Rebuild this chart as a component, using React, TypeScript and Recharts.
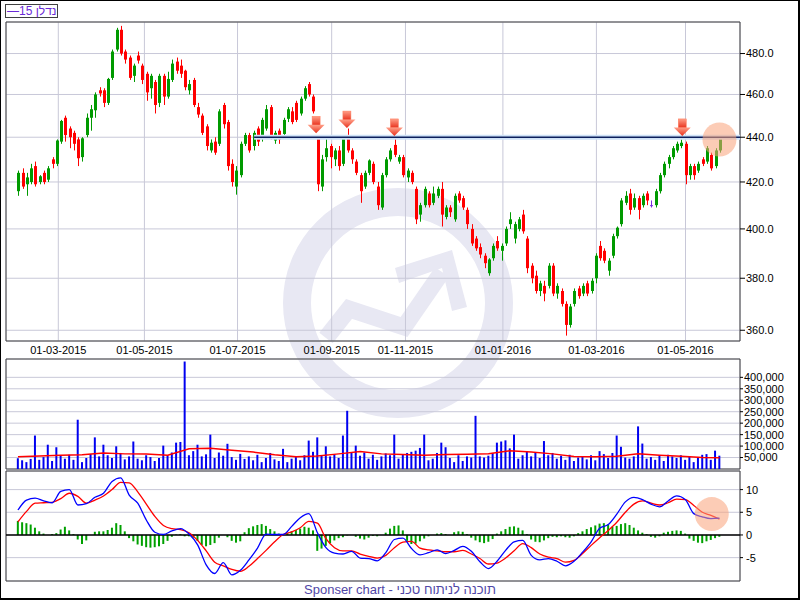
import {
  ComposedChart,
  Bar,
  Line,
  XAxis,
  YAxis,
  CartesianGrid,
  ReferenceLine,
  ReferenceDot,
  ReferenceArea,
} from "recharts"

// daily candles, sampled every second session (Feb 2015 - May 2016)
const opens = [
  416, 424, 419, 420, 427, 420, 424, 421, 430, 428,
  438, 449, 444, 442, 439, 431, 441, 449, 452.5, 462,
  462, 456, 468, 482, 492, 481, 478, 469, 479, 474,
  470, 463, 466, 456, 469, 459, 467, 476, 474, 471.5,
  462, 467, 454, 450, 445, 434, 438, 437, 455, 447,
  428, 418, 423, 437, 441, 436, 444, 440, 444, 454,
  438.5, 443, 441.5, 448.5, 452, 456, 451, 458, 465, 459,
  440, 418, 431, 436, 430, 434, 428, 441, 434, 429,
  423, 418, 424, 428, 418, 409, 423, 430, 436.5, 429,
  431, 422, 424, 417, 406, 410, 415, 411, 414, 417,
  405, 409, 404, 415, 413, 408, 400, 396, 392.5, 389,
  382, 388, 395, 391, 394, 402, 396, 400, 406, 396,
  385, 381, 375, 377, 377, 385, 374, 375, 370, 362,
  370, 376, 374, 378, 375, 380, 393, 391, 383, 389,
  397, 402, 411, 415, 409, 413, 410, 415, 410, 410,
  416, 423, 428, 431, 434, 436, 437, 423, 427, 425,
  430, 429, 432, 427, 434,
]
const highs = [
  425, 426, 424, 428, 429, 423, 425, 427, 431, 439,
  448, 450, 445, 443, 440, 440, 451, 455, 461, 463.5,
  463, 468, 482, 493, 494, 482, 479, 475, 481, 475,
  471, 470, 467, 470, 470, 471, 477, 478, 477, 472,
  467, 468, 456, 451, 446, 439, 440, 453, 456, 448,
  430, 427, 438, 442, 442, 443, 445, 449, 455, 455,
  443, 444, 449, 454, 454, 457, 459, 464, 466, 460,
  441, 432, 440, 437, 435, 436, 441, 444, 435, 430,
  424, 425, 430, 429, 420, 424, 431, 435, 441, 432,
  432, 426, 425, 418, 411, 418, 416, 418, 418, 420,
  410, 410, 415, 416, 414, 409, 402, 397, 394, 390,
  388, 394, 397, 394, 401, 407, 403, 405, 408, 397,
  386, 383, 379, 379, 386, 386, 378, 376, 371, 370,
  376, 377, 378, 379, 380, 390, 395, 392, 388, 398,
  401, 413, 416, 417, 415, 414, 415, 416, 412, 417,
  424, 429, 432, 436, 438, 439, 438, 428, 428, 429,
  431, 436, 433, 435, 440,
]
const lows = [
  414, 417, 414, 419, 418, 419, 419, 420, 426, 427,
  437, 438, 435, 434, 427, 429, 440, 443, 449, 459,
  454, 455, 467, 481, 479, 475, 467, 466, 475, 465,
  457, 458, 451, 454, 455, 458, 466, 470, 468, 462,
  460, 454, 449, 441, 434, 433, 432, 436, 444, 425,
  418, 414.5, 422, 436, 433, 434, 436, 438, 443, 439,
  437, 437, 440, 447, 446, 447, 450, 457, 459, 451,
  416, 416, 429, 426, 427, 425, 427, 433, 428, 423,
  411, 417, 423, 419, 408, 408, 422, 429, 431, 428,
  422, 420, 419, 402, 403, 409, 409, 410, 413, 401,
  404, 405, 403, 411, 408, 400, 393, 391, 388, 384,
  381, 387, 391, 387, 393, 400, 394, 399, 398, 382,
  378, 374, 373, 371, 376, 373, 372, 369, 358, 361,
  369, 372, 373, 373, 374, 378, 387, 386, 381, 388,
  396, 401, 410, 406, 408, 404, 409, 410, 409, 409,
  415, 422, 426, 430, 433, 435, 419, 421, 421, 424,
  427, 428, 425, 426, 433,
]
const closes = [
  424, 418, 422, 426, 419, 422.5, 420, 426, 428, 438.5,
  447.5, 441, 440, 437, 430.5, 439.5, 449, 453, 460, 460.5,
  456, 467.5, 481, 492, 480, 477, 468, 474, 476.5, 467,
  461, 469, 455, 469, 459, 467.5, 475, 471.5, 470, 463.5,
  465, 455, 450.5, 442, 436, 437.5, 433, 452, 446, 427,
  420, 425, 437, 441, 434, 442, 438, 448, 453, 440,
  442, 439, 448, 453, 447, 448, 458, 463, 460, 452,
  419, 430, 435, 431, 434, 427, 439.5, 434, 430, 424,
  416, 424, 429.5, 420, 410, 423, 430, 434, 432, 431,
  423, 425, 420, 404, 410, 417, 410, 415, 417, 406,
  409, 407, 414, 412, 409, 402, 394, 392, 389.5, 386,
  387.5, 393, 392, 393, 400, 404, 402, 404, 399, 384,
  380, 375, 378, 374, 385, 374, 377, 370, 362, 369,
  375, 373, 377, 374, 379, 389, 388, 387, 387, 397,
  400.5, 412, 414, 408, 413, 408, 414, 412, 410, 416,
  423, 428, 431, 435, 437, 437.5, 423, 427, 423, 428,
  428, 435, 426, 434, 439.5,
]
// volume in thousands
const volumes = [
  47, 38, 30, 44, 146, 40, 52, 106, 35, 95,
  58, 45, 62, 40, 215, 30, 48, 65, 138, 55,
  106, 60, 48, 99, 70, 42, 55, 120, 45, 38,
  60, 52, 35, 48, 102, 60, 72, 115, 118, 469,
  60, 78, 106, 55, 64, 150, 48, 72, 58, 110,
  52, 40, 66, 44, 55, 38, 62, 30, 48, 70,
  42, 35, 88, 30, 45, 52, 38, 60, 124, 75,
  138, 60, 99, 55, 64, 48, 146, 254, 70, 102,
  58, 72, 45, 62, 40, 55, 68, 60, 150, 45,
  62, 70, 75, 80, 92, 150, 38, 45, 70, 115,
  95, 48, 30, 60, 35, 55, 50, 232, 55, 50,
  58, 70, 115, 120, 125, 90, 150, 45, 60, 75,
  55, 70, 48, 122, 60, 70, 45, 58, 40, 62,
  35, 50, 55, 42, 60, 38, 78, 65, 48, 70,
  146, 97, 50, 45, 55, 186, 111, 45, 52, 40,
  58, 35, 62, 55, 48, 60, 40, 55, 30, 48,
  62, 65, 40, 80, 58,
]
const volMaAt = [0, 5, 10, 15, 20, 25, 30, 35, 40, 45, 50, 55, 60, 65, 70, 75, 80, 85, 90, 95, 100, 105, 110, 115, 120, 125, 130, 135, 140, 145, 150, 155, 160, 164]
const volMa = [53, 57, 60, 62, 70, 66, 65, 60, 88, 90, 82, 74, 62, 54, 57, 66, 76, 66, 63, 60, 63, 64, 67, 80, 74, 66, 55, 53, 56, 66, 60, 56, 50, 49]

// MACD lines read every second candle
const macdStep = 2
const macdLine = [
  5.5, 7.7, 8.1, 7.5, 7.1, 9.6, 10.0, 6.6, 6.9, 8.3,
  9.2, 11.8, 12.6, 8.8, 7.0, 3.3, 0.6, 0.1, 0.9, 1.4,
  0.2, -2.2, -6.6, -8.5, -6.1, -8.8, -7.8, -5.5, -2.9, 0.2,
  0.1, 0.1, 1.9, 3.8, 4.7, 0.5, -2.8, -4.0, -4.2, -3.6,
  -5.1, -5.2, -5.7, -3.9, -1.0, -0.7, -3.0, -4.4, -3.9, -3.3,
  -4.1, -3.4, -2.5, -3.6, -5.9, -7.4, -5.8, -3.4, -1.5, -1.2,
  -4.5, -5.5, -5.2, -5.8, -6.8, -5.8, -3.8, -1.5, 1.5, 2.3,
  4.6, 7.3, 8.3, 7.8, 6.8, 6.2, 7.5, 8.6, 7.8, 4.7,
  4.0, 3.6, 3.7,
]
const signalLine = [
  2.9, 5.2, 7.0, 7.1, 7.2, 8.0, 9.2, 8.5, 7.0, 7.7,
  8.6, 10.0, 11.6, 11.5, 9.5, 6.8, 4.1, 2.1, 1.4, 1.2,
  0.5, -1.2, -3.5, -6.0, -6.8, -7.6, -8.0, -6.9, -5.2, -3.4,
  -1.5, 0.1, 0.7, 1.6, 3.0, 2.6, -0.8, -2.8, -3.5, -3.5,
  -4.2, -4.7, -5.1, -4.5, -2.8, -1.6, -1.4, -2.9, -3.3, -3.5,
  -3.7, -3.7, -3.4, -4.2, -5.2, -6.4, -6.2, -5.1, -3.5, -1.9,
  -2.8, -4.2, -4.9, -5.2, -6.0, -5.6, -4.1, -2.3, -0.6, 1.0,
  2.8, 5.0, 6.8, 7.5, 7.0, 6.6, 7.1, 7.9, 7.8, 6.5,
  5.0, 4.3, 3.5,
]
const histogram = [
  3.1, 2.8, 2.6, 2.3, 1.6, 0.8, 0.3, 0.0, 0.2, 0.4,
  1.2, 1.8, 1.0, 0.2, -1.0, -2.0, -1.2, 0.0, 0.7, 0.8,
  0.8, 1.1, 1.6, 2.6, 2.2, 0.8, -0.7, -1.4, -2.1, -2.4,
  -2.7, -2.8, -2.7, -2.5, -2.0, -1.3, -0.4, 0.1, 0.2, -0.3,
  -0.3, -0.6, -1.3, -2.2, -2.5, -2.2, -1.8, -0.6, 0.0, -0.5,
  -1.3, -1.7, -1.4, 0.6, 1.5, 1.9, 2.2, 2.4, 2.0, 1.3,
  0.8, 0.3, 0.0, 0.4, 0.8, 1.1, 1.4, 1.8, 1.6, 1.0,
  -3.5, -3.0, -2.4, -1.8, -1.2, -0.7, -0.5, -0.1, 0.0, -0.4,
  -0.8, -1.0, -0.6, -0.2, -0.3, 0.0, 0.5, 1.4, 2.0, 2.1,
  1.0, -1.3, -2.0, -1.9, -1.4, -0.8, -0.3, 0.0, 0.3, 0.4,
  0.2, 0.0, 0.6, 0.8, 0.7, 0.2, -0.6, -1.2, -1.6, -1.8,
  -1.5, -0.9, 0.3, 0.8, 1.3, 1.8, 1.9, 1.6, 1.0, 0.2,
  -1.0, -1.5, -1.6, -1.2, -0.7, -0.4, -0.5, -0.3, -0.5, -0.6,
  -0.3, 0.4, 0.8, 1.3, 1.7, 2.1, 2.5, 2.6, 2.3, 1.8,
  2.0, 2.4, 2.6, 2.2, 1.6, 1.0, 0.5, 0.2, -0.4, -0.6,
  -0.3, 0.5, 0.7, 0.9, 1.0, 0.9, 0.3, -0.8, -1.3, -1.7,
  -1.8, -1.4, -1.1, -0.7, -0.4,
]

// month starts, as candle positions
const tickPos = [9.43, 29.56, 51.33, 73.34, 90.59, 113.37, 135.23, 156.06]
const tickLabels = ["01-03-2015", "01-05-2015", "01-07-2015", "01-09-2015", "01-11-2015", "01-01-2016", "01-03-2016", "01-05-2016"]
const priceTicks = [360, 380, 400, 420, 440, 460, 480]
const volTicks = [50, 100, 150, 200, 250, 300, 350, 400]
const macdTicks = [-5, 0, 5, 10]

// resistance + sell signals
const resistance = 440
const resistanceFrom = 55.2
const signalIdx = [69.7, 76.9, 88, 155.3]
const signalPrice = [441.8, 444.2, 440.6, 440.6]

const X_DOMAIN: [number, number] = [-2.8, 168.8]
const PRICE_DOMAIN: [number, number] = [356, 496]
const VOL_DOMAIN: [number, number] = [0, 480]
const MACD_DOMAIN: [number, number] = [-10.15, 14.1]

const FONT = "'Liberation Sans', Arial, sans-serif"
const GRID = "#c8c8d8"
const FRAME = "#404040"
const UP = "#009a00"
const DOWN = "#ff0000"
const DOJI = "#7a2ee0"
const WM = "#e8e8f3"

const rows = opens.map((o, i) => ({
  i,
  open: o,
  high: highs[i],
  low: lows[i],
  close: closes[i],
  volume: volumes[i],
  hist: histogram[i],
}))
const volMaRows = volMaAt.map((i, j) => ({ i, ma: volMa[j] }))
const macdRows = macdLine.map((v, j) => ({ i: j * macdStep, macd: v, signal: signalLine[j] }))

const tickStyle = { fontSize: 11, fill: "#000", fontFamily: FONT }

function Candle(props: any) {
  const { x, y, width, height, payload } = props
  const { open, close, high, low } = payload
  const span = Math.log(high / low)
  const toY = (v: number) => y + (height * Math.log(high / v)) / span
  const color = close === open ? DOJI : close > open ? UP : DOWN
  const cx = Math.round(x + width / 2) + 0.5
  const top = toY(Math.max(open, close))
  const bottom = toY(Math.min(open, close))
  return (
    <g>
      <line x1={cx} x2={cx} y1={y} y2={y + height} stroke={color} strokeWidth={1} />
      <rect x={cx - 1.5} y={top} width={3} height={Math.max(1, bottom - top)} fill={color} />
    </g>
  )
}

function SignalArrow(props: any) {
  const { cx, cy } = props
  return (
    <g>
      <rect x={cx - 4} y={cy - 17} width={8} height={9} fill="url(#arrowFill)" stroke="#ff7a5a" strokeWidth={0.5} />
      <polygon points={`${cx - 8.5},${cy - 8.5} ${cx + 8.5},${cy - 8.5} ${cx},${cy}`} fill="url(#arrowFill)" />
    </g>
  )
}

function Watermark() {
  return (
    <svg width={800} height={600} style={{ position: "absolute", left: 0, top: 0 }}>
      <circle cx={398} cy={303} r={101} fill="none" stroke={WM} strokeWidth={28} />
      <polyline points="326,338 349,309 404,327 442,272" fill="none" stroke={WM} strokeWidth={17} />
      <polygon points="395,268 452,250 467,307 452,311 442,268 399,283" fill={WM} />
    </svg>
  )
}

const layer = { position: "absolute" as const, left: 0, top: 0 }

function PricePanel() {
  return (
    <div style={layer}>
      <ComposedChart width={800} height={600} data={rows} margin={{ top: 22, right: 6, bottom: 239, left: 6 }}>
        <defs>
          <linearGradient id="arrowFill" x1="0" y1="0" x2="0" y2="1">
            <stop offset="0%" stopColor="#ff9f88" />
            <stop offset="100%" stopColor="#e8301c" />
          </linearGradient>
        </defs>
        <CartesianGrid stroke={GRID} />
        <XAxis
          dataKey="i"
          type="number"
          domain={X_DOMAIN}
          allowDataOverflow
          ticks={tickPos}
          interval={0}
          tickFormatter={(v) => tickLabels[tickPos.indexOf(v)]}
          axisLine={false}
          tickLine={false}
          tickSize={3}
          height={20}
          tick={tickStyle}
        />
        <YAxis
          orientation="right"
          scale="log"
          domain={PRICE_DOMAIN}
          allowDataOverflow
          ticks={priceTicks}
          interval={0}
          tickFormatter={(v) => Number(v).toFixed(1)}
          axisLine={false}
          tickLine={{ stroke: "#000" }}
          tickSize={5}
          tickMargin={1}
          width={54}
          tick={tickStyle}
        />
        <ReferenceArea x1={X_DOMAIN[0]} x2={X_DOMAIN[1]} y1={PRICE_DOMAIN[0]} y2={PRICE_DOMAIN[1]} fill="none" stroke={FRAME} ifOverflow="visible" />
        <ReferenceLine segment={[{ x: resistanceFrom, y: resistance }, { x: X_DOMAIN[1], y: resistance }]} stroke="#cfe2f7" strokeWidth={5} />
        <Bar dataKey={(d: any) => [d.low, d.high]} barSize={3} isAnimationActive={false} shape={(p: any) => <Candle {...p} />} />
        <ReferenceLine segment={[{ x: resistanceFrom, y: resistance }, { x: X_DOMAIN[1], y: resistance }]} stroke="#0c1f5c" strokeWidth={1.5} />
        {signalIdx.map((x, k) => (
          <ReferenceDot key={k} x={x} y={signalPrice[k]} r={1} shape={(p: any) => <SignalArrow {...p} />} />
        ))}
        <ReferenceDot x={164} y={439} r={17} fill="#f9a27a" fillOpacity={0.55} stroke="none" />
      </ComposedChart>
    </div>
  )
}

function VolumePanel() {
  return (
    <div style={layer}>
      <ComposedChart width={800} height={600} data={rows} margin={{ top: 359, right: 6, bottom: 131, left: 6 }}>
        <CartesianGrid stroke={GRID} />
        <XAxis dataKey="i" type="number" domain={X_DOMAIN} allowDataOverflow ticks={tickPos} interval={0} tick={false} axisLine={false} tickLine={false} height={0} />
        <YAxis
          orientation="right"
          domain={VOL_DOMAIN}
          allowDataOverflow
          ticks={volTicks}
          interval={0}
          tickFormatter={(v) => (Number(v) * 1000).toLocaleString("en-US")}
          axisLine={false}
          tickLine={{ stroke: "#000" }}
          tickSize={3}
          tickMargin={1}
          width={54}
          tick={tickStyle}
        />
        <ReferenceArea x1={X_DOMAIN[0]} x2={X_DOMAIN[1]} y1={VOL_DOMAIN[0]} y2={VOL_DOMAIN[1]} fill="none" stroke={FRAME} ifOverflow="visible" />
        <Bar dataKey="volume" fill="#0000f0" barSize={2} isAnimationActive={false} />
        <Line data={volMaRows} dataKey="ma" type="linear" stroke="#ff0000" strokeWidth={1.5} dot={false} isAnimationActive={false} />
      </ComposedChart>
    </div>
  )
}

function MacdPanel() {
  return (
    <div style={layer}>
      <ComposedChart width={800} height={600} data={rows} margin={{ top: 471, right: 6, bottom: 19, left: 6 }}>
        <CartesianGrid stroke={GRID} />
        <XAxis dataKey="i" type="number" domain={X_DOMAIN} allowDataOverflow ticks={tickPos} interval={0} tick={false} axisLine={false} tickLine={false} height={0} />
        <YAxis
          orientation="right"
          domain={MACD_DOMAIN}
          allowDataOverflow
          ticks={macdTicks}
          interval={0}
          axisLine={false}
          tickLine={{ stroke: "#000" }}
          tickSize={3}
          tickMargin={3}
          width={54}
          tick={tickStyle}
        />
        <ReferenceArea x1={X_DOMAIN[0]} x2={X_DOMAIN[1]} y1={MACD_DOMAIN[0]} y2={MACD_DOMAIN[1]} fill="none" stroke={FRAME} ifOverflow="visible" />
        <ReferenceLine y={0} stroke="#000" strokeWidth={1.5} />
        <Bar dataKey="hist" fill="#00a000" barSize={2} isAnimationActive={false} />
        <Line data={macdRows} dataKey="signal" type="monotone" stroke="#ff0000" strokeWidth={1.3} dot={false} isAnimationActive={false} />
        <Line data={macdRows} dataKey="macd" type="monotone" stroke="#0000ff" strokeWidth={1.3} dot={false} isAnimationActive={false} />
        <ReferenceDot x={162.2} y={4.6} r={17} fill="#f9a27a" fillOpacity={0.55} stroke="none" />
      </ComposedChart>
    </div>
  )
}

export default function App() {
  return (
    <div
      style={{
        position: "absolute",
        left: 0,
        top: 0,
        width: 800,
        height: 600,
        boxSizing: "border-box",
        background: "#fff",
        borderTop: "1px solid #000",
        borderLeft: "1px solid #000",
        borderRight: "2px solid #000",
        borderBottom: "2px solid #000",
        overflow: "hidden",
        fontFamily: FONT,
      }}
    >
      <div style={{ position: "absolute", left: -1, top: -1, width: 800, height: 600 }}>
        <Watermark />
        <PricePanel />
        <VolumePanel />
        <MacdPanel />
        <div
          style={{
            position: "absolute",
            left: 5,
            top: 4,
            width: 50,
            height: 12,
            border: "1px solid #404040",
            color: "#6a2ad6",
            fontSize: 12,
            lineHeight: "12px",
            paddingLeft: 1,
            whiteSpace: "nowrap",
            background: "#fff",
          }}
        >
          —15 נדלן
        </div>
        <div
          style={{
            position: "absolute",
            left: 0,
            top: 582,
            width: 800,
            textAlign: "center",
            color: "#5046a6",
            fontSize: 13,
          }}
        >
          Sponser chart - תוכנה לניתוח טכני
        </div>
      </div>
    </div>
  )
}
